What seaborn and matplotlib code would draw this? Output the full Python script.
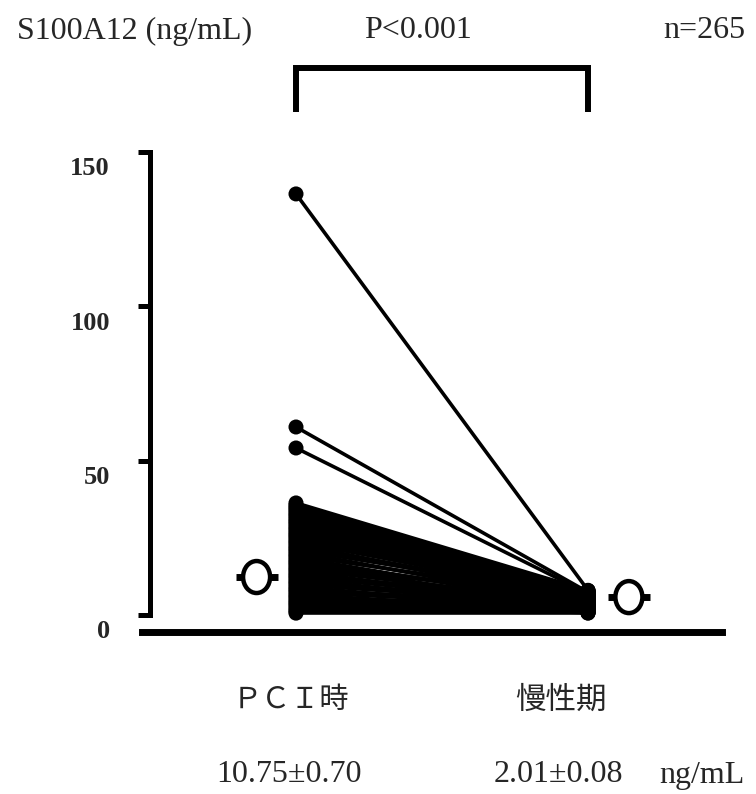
import numpy as np
import pandas as pd
import matplotlib
matplotlib.use('Agg')
import matplotlib.pyplot as plt
import seaborn as sns
from matplotlib.patches import Ellipse

# ---------------- data ----------------
groups = ['ＰＣＩ時', '慢性期']
pci_vals = [136.4, 60.9, 54.1,
            36.3, 35.6, 35.0, 34.4, 33.8, 33.1, 32.5, 31.9, 31.2, 30.6,
            30.0, 29.4, 28.7, 28.1, 27.5, 26.8, 26.2, 25.6, 25.0, 24.3,
            23.7, 23.1, 22.4, 21.8, 21.2, 20.6, 19.9, 19.3, 18.7, 18.0,
            17.4, 16.8, 16.2, 15.5, 14.9, 14.3, 13.6, 13.0, 12.4, 11.8,
            11.1, 10.5, 9.9, 9.2, 8.6, 8.0, 7.4, 6.7, 6.1, 5.5,
            4.8, 4.2, 3.6, 3.0, 2.3, 1.7, 1.1, 0.6]
chronic_vals = [8.0, 7.4, 7.0,
                7.9, 7.6, 6.3, 7.8, 7.1, 5.9, 7.4, 6.8, 4.9, 7.2,
                6.5, 5.5, 7.0, 6.1, 3.8, 6.7, 5.7, 4.4, 6.4, 5.0,
                6.0, 3.2, 5.3, 4.7, 5.8, 2.9, 4.1, 5.6, 2.4, 3.6,
                4.5, 1.9, 5.2, 3.0, 4.0, 1.5, 2.6, 4.8, 3.4, 1.2,
                2.2, 4.3, 3.1, 0.9, 1.8, 3.9, 2.7, 0.8, 1.4, 3.3,
                2.0, 0.7, 2.5, 1.6, 1.0, 2.1, 1.3, 0.6]
mean_marker_vals = [12.3, 5.8]
summary_labels = ['10.75±0.70', '2.01±0.08']
unit_label = 'ng/mL'
y_ticks = [0, 50, 100, 150]
header_left = 'S100A12 (ng/mL)'
p_label = 'P<0.001'
n_label = 'n=265'

# ---------------- layout helpers ----------------
W, H = 756, 794
sns.set_style('white')
fig = plt.figure(figsize=(W / 100, H / 100), dpi=100)

X0, X1 = 296, 588        # pixel columns of the two groups
Y0, YPU = 615, 3.087     # pixel of value 0, pixels per unit
ax_l, ax_r, ax_b, ax_t = 130, 740, 645, 140


def px2x(p):
    return (p - X0) / (X1 - X0)


def px2y(p):
    return (Y0 - p) / YPU


ax = fig.add_axes([ax_l / W, 1 - ax_b / H, (ax_r - ax_l) / W, (ax_b - ax_t) / H])
ax.set_facecolor('white')

n = len(pci_vals)
df = pd.DataFrame({
    'id': np.repeat(np.arange(n), 2),
    'x': np.tile([0, 1], n),
    'value': np.ravel(np.column_stack([pci_vals, chronic_vals])),
})

sns.lineplot(data=df, x='x', y='value', units='id', estimator=None,
             color='black', linewidth=2.6, ax=ax, legend=False, sort=False,
             zorder=2)
sns.scatterplot(data=df, x='x', y='value', color='black', s=117,
                edgecolor='none', ax=ax, zorder=3, legend=False)

ax.set_xlim(px2x(ax_l), px2x(ax_r))
ax.set_ylim(px2y(ax_b), px2y(ax_t))
ax.set_xlabel('')
ax.set_ylabel('')
ax.set_xticks([])
ax.set_yticks(y_ticks)
ax.tick_params(axis='y', left=True, direction='out', length=8.6, width=3.6,
               labelleft=False, color='black')

for s in ['top', 'right']:
    ax.spines[s].set_visible(False)
ax.spines['left'].set_position(('data', px2x(150)))
ax.spines['left'].set_bounds(0, 150)
ax.spines['left'].set_linewidth(3.6)
ax.spines['left'].set_color('black')
ax.spines['bottom'].set_position(('data', px2y(632)))
ax.spines['bottom'].set_bounds(px2x(142), px2x(722))
ax.spines['bottom'].set_linewidth(5)
ax.spines['bottom'].set_color('black')

# y tick labels (offset below the ticks as in the reference)
for v in y_ticks:
    ax.annotate(str(v), xy=(px2x(150), v), xytext=(-40, -17),
                textcoords='offset pixels', ha='right', va='center',
                fontsize=19, fontweight='bold', family='Liberation Serif',
                annotation_clip=False)

# mean markers (open circles with side nubs)
offs = [-0.135, 0.14]
for i, m in enumerate(mean_marker_vals):
    cx = i + offs[i]
    ax.plot([cx - 0.072, cx + 0.072], [m, m], color='black', lw=5,
            solid_capstyle='butt', zorder=4)
    ax.add_patch(Ellipse((cx, m), width=27 / (X1 - X0), height=32 / YPU,
                         facecolor='white', edgecolor='black', lw=3.2,
                         zorder=5))

# significance bracket
ax.plot([0, 0, 1, 1], [px2y(112), px2y(68), px2y(68), px2y(112)],
        color='black', lw=4.3, clip_on=False, solid_joinstyle='miter',
        solid_capstyle='butt')


def ftext(px, py, s, **kw):
    fig.text(px / W, 1 - py / H, s, **kw)


serif = 'Liberation Serif'
cjk = ['Noto Sans CJK JP', 'DejaVu Sans']

ftext(17, 31, header_left, ha='left', va='center', fontsize=23, family=serif)
ftext(418, 31, p_label, ha='center', va='center', fontsize=23, family=serif)
ftext(745, 31, n_label, ha='right', va='center', fontsize=23, family=serif)

ftext(291, 700, groups[0], ha='center', va='center', fontsize=21, family=cjk)
ftext(561, 700, groups[1], ha='center', va='center', fontsize=22, family=cjk)

ftext(289, 775, summary_labels[0], ha='center', va='center', fontsize=23, family=serif)
ftext(558, 775, summary_labels[1], ha='center', va='center', fontsize=23, family=serif)
ftext(702, 775, unit_label, ha='center', va='center', fontsize=23, family=serif)

fig.savefig('out.png', dpi=100, facecolor='white')
